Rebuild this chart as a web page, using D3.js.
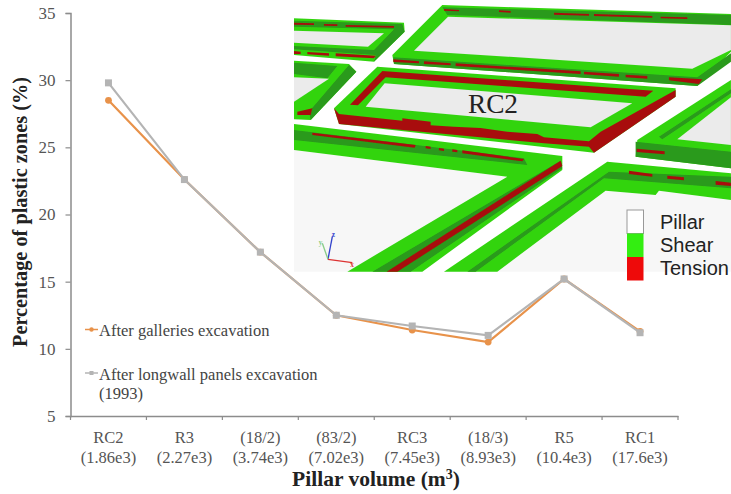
<!DOCTYPE html>
<html>
<head>
<meta charset="utf-8">
<script src="https://cdn.jsdelivr.net/npm/d3@7"></script>
<style>
  html, body { margin: 0; padding: 0; background: #fff; }
  svg { display: block; }
  text { font-family: "Liberation Serif", serif; }
</style>
</head>
<body>
<div class="chart"></div>
<script>
var pillars = ["RC2", "R3", "(18/2)", "(83/2)", "RC3", "(18/3)", "R5", "RC1"];
var volumes = ["(1.86e3)", "(2.27e3)", "(3.74e3)", "(7.02e3)", "(7.45e3)", "(8.93e3)", "(10.4e3)", "(17.6e3)"];
var galleries = [28.5, 22.6, 17.2, 12.5, 11.4, 10.5, 15.2, 11.3];
var longwall = [29.8, 22.6, 17.2, 12.5, 11.7, 11.0, 15.2, 11.2];
var yTicks = [5, 10, 15, 20, 25, 30, 35];
var legendKeys = ["Pillar", "Shear", "Tension"];
var legendColors = ["#ffffff", "#33ee11", "#ee0a0a"];

var width = 731, height = 494;
var margin = { top: 13, left: 70.5, bottom: 78, right: 53 };

var svg = d3.select(".chart").append("svg").attr("width", width).attr("height", height);

var x = d3.scaleBand().domain(pillars).range([margin.left, width - margin.right]);
var y = d3.scaleLinear().domain([5, 35]).range([height - margin.bottom, margin.top]);

svg.append("defs").append("filter").attr("id", "soft")
  .attr("x", 0).attr("y", 0).attr("width", 1).attr("height", 1)
  .append("feGaussianBlur").attr("stdDeviation", 1.6);

// ---- inset model view, shapes traced in a 3x crop of the picture
var LIGHT = "#33d411", DARK = "#2a9a1a", RED = "#a80f0a", GREY = "#ebebeb", PALE = "#f7f7f7";
var inset = svg.append("g").attr("transform", "translate(294,0) scale(0.3333)");
var model = inset.append("g").attr("filter", "url(#soft)");
var shapes = [
  // pale floors under the two long pillars
  [PALE, "M0,450 L640,530 L180,815 L0,815 Z"],
  [PALE, "M935,572 L1085,585 L1095,572 L1311,600 L1311,815 L610,815 Z"],
  // top left pillar
  [LIGHT, "M0,55 L330,68 L332,95 L240,185 L0,165 Z"],
  [DARK, "M0,62 L325,72 L332,95 L240,185 L245,165 L0,148 Z"],
  [LIGHT, "M0,80 L300,88 L240,150 L0,138 Z"],
  [GREY, "M0,92 L270,100 L222,140 L0,128 Z"],
  // top big pillar
  [LIGHT, "M445,15 L1311,42 L1311,155 L1210,258 L300,192 L295,165 Z"],
  [DARK, "M445,22 L1311,45 L1311,75 L460,45 Z"],
  [DARK, "M298,172 L1210,232 L1311,160 L1311,185 L1210,258 L300,192 Z"],
  [GREY, "M360,152 L462,50 L1311,76 L1311,150 L1195,206 Z"],
  // left middle pillar
  [LIGHT, "M0,182 L165,192 L187,215 L50,360 L0,358 Z"],
  [DARK, "M0,188 L130,198 L100,235 L0,222 Z"],
  [DARK, "M165,195 L187,215 L50,360 L45,335 Z"],
  [GREY, "M0,232 L105,236 L0,305 Z"],
  // RC2
  [LIGHT, "M250,200 L1145,265 L1145,290 L900,458 L135,372 L120,325 Z"],
  [GREY, "M215,320 L272,250 L1015,310 L890,382 Z"],
  [RED, "M265,213 L1078,272 L1055,290 L275,232 L192,316 L168,314 Z"],
  [RED, "M120,325 L135,342 L325,362 L325,355 L410,365 L410,376 L480,380 L560,384 L640,395 L730,402 L750,412 L885,424 L920,395 L1145,270 L1145,290 L900,458 L885,440 L750,430 L135,372 Z"],
  // bottom left pillar
  [LIGHT, "M0,372 L805,468 L805,510 L385,815 L160,815 L640,530 L0,450 Z"],
  [DARK, "M0,390 L690,475 L700,495 L0,420 Z"],
  [DARK, "M800,482 L805,505 L350,815 L235,815 Z"],
  [RED, "M800,482 L805,498 L310,815 L278,815 Z"],
  [RED, "M55,398 L365,435 L362,443 L55,405 Z"],
  [RED, "M505,451 L690,477 L685,484 L505,460 Z"],
  [RED, "M395,438 L410,440 L410,447 L395,445 Z"],
  [RED, "M435,444 L450,446 L450,453 L435,451 Z"],
  [RED, "M475,448 L490,450 L490,457 L475,455 Z"],
  // bottom middle pillar
  [LIGHT, "M940,485 L1311,520 L1311,600 L1095,572 L1085,585 L935,572 L610,815 L450,815 Z"],
  [DARK, "M945,515 L1311,530 L1311,565 L930,535 L545,815 L520,815 Z"],
  [RED, "M1005,512 L1075,522 L1075,530 L1005,522 Z"],
  [RED, "M1120,527 L1170,532 L1170,541 L1120,536 Z"],
  [RED, "M1265,543 L1311,548 L1311,558 L1265,554 Z"],
  // right pillar
  [LIGHT, "M1311,240 L1311,505 L1025,470 L1030,420 Z"],
  [DARK, "M1025,425 L1311,455 L1311,505 L1025,470 Z"],
  [DARK, "M1311,268 L1311,280 L1105,418 L1095,410 Z"],
  [GREY, "M1311,292 L1150,418 L1311,435 Z"],
  [RED, "M1028,446 L1112,454 L1112,463 L1028,456 Z"],
  // dashes along the edges
  [RED, "M298,178 L375,184 L375,190 L298,186 Z"],
  [RED, "M390,184 L470,190 L470,196 L390,192 Z"],
  [RED, "M485,190 L860,214 L860,222 L485,198 Z"],
  [RED, "M870,215 L975,222 L975,230 L870,223 Z"],
  [RED, "M995,224 L1060,228 L1060,236 L995,232 Z"],
  [RED, "M1125,232 L1225,238 L1215,252 L1125,241 Z"],
  [RED, "M450,27 L495,30 L495,34 L450,32 Z"],
  [RED, "M615,31 L650,33 L650,38 L615,36 Z"],
  [RED, "M780,38 L885,42 L885,47 L780,44 Z"],
  [RED, "M900,42 L1075,48 L1075,53 L900,48 Z"],
  [RED, "M1100,50 L1180,52 L1180,57 L1100,55 Z"],
  [RED, "M0,68 L60,70 L60,75 L0,74 Z"],
  [RED, "M90,72 L130,73 L130,78 L90,77 Z"],
  [RED, "M155,75 L300,78 L300,83 L155,80 Z"],
  [RED, "M0,153 L20,155 L20,162 L0,162 Z"],
  [RED, "M40,156 L105,160 L105,167 L40,163 Z"],
  [RED, "M125,160 L245,167 L240,175 L125,169 Z"],
  [RED, "M10,335 L55,325 L50,345 L10,345 Z"]
];
model.selectAll("path.shape").data(shapes).enter().append("path")
  .attr("class", "shape")
  .attr("d", function (d) { return d[1]; })
  .attr("fill", function (d) { return d[0]; });

inset.append("text").attr("x", 597).attr("y", 338).attr("text-anchor", "middle")
  .attr("font-size", 82).attr("fill", "#222").text("RC2");

// little xyz triad
var triad = [["#3344cc", "M102,778 L115,710", "z", 118, 712], ["#88cc88", "M102,778 L85,730", "y", 80, 736], ["#dd3333", "M102,778 L175,788", "x", 174, 800]];
triad.forEach(function (t) {
  inset.append("path").attr("d", t[1]).attr("stroke", t[0]).attr("stroke-width", 4).attr("fill", "none");
  inset.append("text").attr("x", t[3]).attr("y", t[4]).attr("font-size", 22).attr("font-weight", "bold")
    .attr("fill", t[0]).attr("text-anchor", "middle").text(t[2]);
});

// pillar / shear / tension key
var key = svg.append("g");
key.selectAll("rect").data(legendKeys).enter().append("rect")
  .attr("x", 627).attr("width", 16.5).attr("height", 23.5)
  .attr("y", function (d, i) { return 210 + i * 23.5; })
  .attr("fill", function (d, i) { return legendColors[i]; })
  .attr("stroke", function (d, i) { return i === 0 ? "#999" : "none"; });
key.selectAll("text").data(legendKeys).enter().append("text")
  .attr("x", 660).attr("y", function (d, i) { return 229 + i * 23; })
  .style("font-family", "'Liberation Sans', sans-serif")
  .attr("font-size", 20).attr("fill", "#222").text(function (d) { return d; });

// ---- axes
var AXIS = "#8c8c8c", TICK_TEXT = "#555";
var yAxis = svg.append("g").attr("transform", "translate(" + margin.left + ",0)")
  .call(d3.axisLeft(y).tickValues(yTicks).tickSize(5).tickPadding(10));
var xAxis = svg.append("g").attr("transform", "translate(0," + (height - margin.bottom) + ")")
  .call(d3.axisBottom(x).tickSize(0).tickFormat(""));

// ticks sit between the categories
xAxis.selectAll("line.edge").data(d3.range(pillars.length + 1)).enter().append("line")
  .attr("class", "edge")
  .attr("x1", function (i) { return margin.left + i * x.step(); })
  .attr("x2", function (i) { return margin.left + i * x.step(); })
  .attr("y2", 4);

[yAxis, xAxis].forEach(function (a) {
  a.select(".domain").attr("stroke", AXIS).attr("stroke-width", 1.5);
  a.selectAll("line").attr("stroke", AXIS).attr("stroke-width", 1.2);
});
yAxis.selectAll("text").attr("font-size", 17).attr("fill", TICK_TEXT)
  .style("font-family", "'Liberation Serif', serif");

var xLabels = svg.append("g").selectAll("text").data(pillars).enter().append("text")
  .attr("text-anchor", "middle").attr("font-size", 16.5).attr("fill", TICK_TEXT)
  .attr("transform", function (d) { return "translate(" + (x(d) + x.bandwidth() / 2) + ",0)"; });
xLabels.append("tspan").attr("x", 0).attr("y", 443).text(function (d) { return d; });
xLabels.append("tspan").attr("x", 0).attr("y", 463).text(function (d, i) { return volumes[i]; });

svg.append("text").attr("x", 376).attr("y", 486).attr("text-anchor", "middle")
  .attr("font-size", 21.5).attr("font-weight", "bold").attr("fill", "#222")
  .html("Pillar volume (m<tspan font-size='14' dy='-7'>3</tspan><tspan dy='7'>)</tspan>");

svg.append("text").attr("transform", "translate(27,212) rotate(-90)").attr("text-anchor", "middle")
  .attr("font-size", 20.3).attr("font-weight", "bold").attr("fill", "#222")
  .text("Percentage of plastic zones (%)");

// ---- series
var line = d3.line()
  .x(function (d, i) { return x(pillars[i]) + x.bandwidth() / 2; })
  .y(function (d) { return y(d); });

var ORANGE = "#e8924a", GRAY = "#b4b4b4";
svg.append("path").datum(galleries).attr("d", line).attr("fill", "none").attr("stroke", ORANGE).attr("stroke-width", 2.2);
svg.append("g").selectAll("circle").data(galleries).enter().append("circle")
  .attr("cx", function (d, i) { return x(pillars[i]) + x.bandwidth() / 2; })
  .attr("cy", function (d) { return y(d); })
  .attr("r", 3.4).attr("fill", ORANGE);

svg.append("path").datum(longwall).attr("d", line).attr("fill", "none").attr("stroke", GRAY).attr("stroke-width", 2.2);
svg.append("g").selectAll("rect").data(longwall).enter().append("rect")
  .attr("x", function (d, i) { return x(pillars[i]) + x.bandwidth() / 2 - 3.5; })
  .attr("y", function (d) { return y(d) - 3.5; })
  .attr("width", 7).attr("height", 7).attr("fill", GRAY);

// ---- series legend
var legend = svg.append("g");
legend.append("line").attr("x1", 85).attr("x2", 98).attr("y1", 329.5).attr("y2", 329.5).attr("stroke", ORANGE).attr("stroke-width", 1.5);
legend.append("circle").attr("cx", 91.5).attr("cy", 329.5).attr("r", 2.2).attr("fill", ORANGE);
legend.append("line").attr("x1", 85).attr("x2", 98).attr("y1", 373).attr("y2", 373).attr("stroke", GRAY).attr("stroke-width", 1.5);
legend.append("rect").attr("x", 89.5).attr("y", 371).attr("width", 4).attr("height", 4).attr("fill", GRAY);
legend.append("text").attr("x", 99).attr("y", 336).attr("font-size", 16.5).attr("fill", "#444").text("After galleries excavation");
legend.append("text").attr("x", 99).attr("y", 380).attr("font-size", 16.5).attr("fill", "#444").text("After longwall panels excavation");
legend.append("text").attr("x", 99).attr("y", 399).attr("font-size", 16.5).attr("fill", "#444").text("(1993)");
</script>
</body>
</html>
